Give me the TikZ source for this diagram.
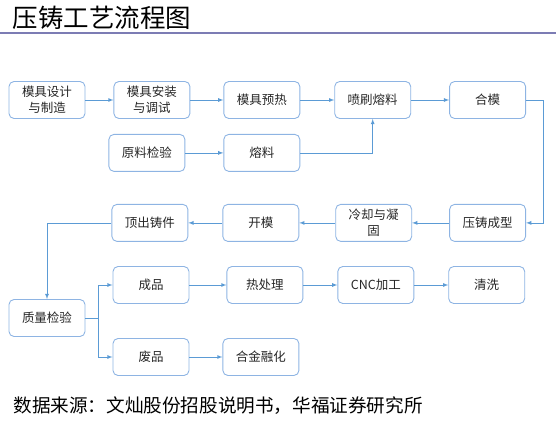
\documentclass[tikz,border=0pt]{standalone}
\usepackage{fontspec}
\usepackage{xcolor}
\usetikzlibrary{arrows, calc, positioning}
\newfontfamily\cjk{Noto Sans CJK SC}
\definecolor{boxline}{HTML}{8EB4E3}
\definecolor{arrline}{HTML}{5B9BD5}
\definecolor{rulecol}{HTML}{7C7CB4}
\tikzset{
  % flow arrow style
  farr/.style={
    -latex, draw=arrline, line width = 0.8pt
  },
}

\begin{document}
\begin{tikzpicture}
          [x=1pt, y=-1pt,
           stage/.style={draw=boxline, line width=0.9pt, rounded corners=5pt,
                         minimum width=76pt, minimum height=37pt, inner sep=2pt,
                         align=center, text=black!85,
                         font=\cjk\fontsize{12.5}{16}\selectfont}
          ]
          \useasboundingbox (0,0) rectangle (558,423);

          \node (title) [anchor=west, font=\cjk\fontsize{25.5}{26}\selectfont] at (9,18) {压铸工艺流程图};
          \draw[rulecol, line width=2pt] (0,33) -- (556,33);

          % first row
          \node (design) [stage] at (47,100) {模具设计\\与制造};
          \node (mount) [stage, right=28pt of design] {模具安装\\与调试};
          \node (preheat) [stage, right=33pt of mount] {模具预热};
          \node (spray) [stage, right=34pt of preheat] {喷刷熔料};
          \node (close) [stage, right=38pt of spray] {合模};

          % second row
          \node (melt) [stage, below=15pt of preheat] {熔料};
          \node (check) [stage, left=38pt of melt] {原料检验};

          % third row
          \node (cast) [stage, below=85pt of close] {压铸成型};
          \node (cool) [stage, left=37pt of cast] {冷却与凝\\固};
          \node (open) [stage, left=36pt of cool] {开模};
          \node (eject) [stage, left=34pt of open] {顶出铸件};

          % inspection and after
          \node (inspect) [stage] at (47,318) {质量检验};
          \node (good) [stage] at (151,285) {成品};
          \node (heat) [stage, right=37pt of good] {热处理};
          \node (cnc) [stage, right=34pt of heat] {CNC加工};
          \node (wash) [stage, right=34pt of cnc] {清洗};
          \node (scrap) [stage] at (151,357) {废品};
          \node (alloy) [stage, right=33pt of scrap] {合金融化};

          \node (source) [anchor=west, font=\cjk\fontsize{18.6}{19}\selectfont] at (10,406)
                {数据来源：文灿股份招股说明书，华福证券研究所};

          \draw[farr] (design) -- (mount);
          \draw[farr] (mount) -- (preheat);
          \draw[farr] (preheat) -- (spray);
          \draw[farr] (spray) -- (close);
          \draw[farr] (check) -- (melt);
          \draw[farr] (melt) -| (spray);
          \draw[farr] (close.east) -- ++(17pt,0) |- (cast.east);
          \draw[farr] (cast) -- (cool);
          \draw[farr] (cool) -- (open);
          \draw[farr] (open) -- (eject);
          \draw[farr] (eject) -| (inspect);
          \draw[farr] (inspect.east) -- ++(13pt,0) |- (good);
          \draw[farr] (inspect.east) -- ++(13pt,0) |- (scrap);
          \draw[farr] (good) -- (heat);
          \draw[farr] (heat) -- (cnc);
          \draw[farr] (cnc) -- (wash);
          \draw[farr] (scrap) -- (alloy);
      \end{tikzpicture}
\end{document}
